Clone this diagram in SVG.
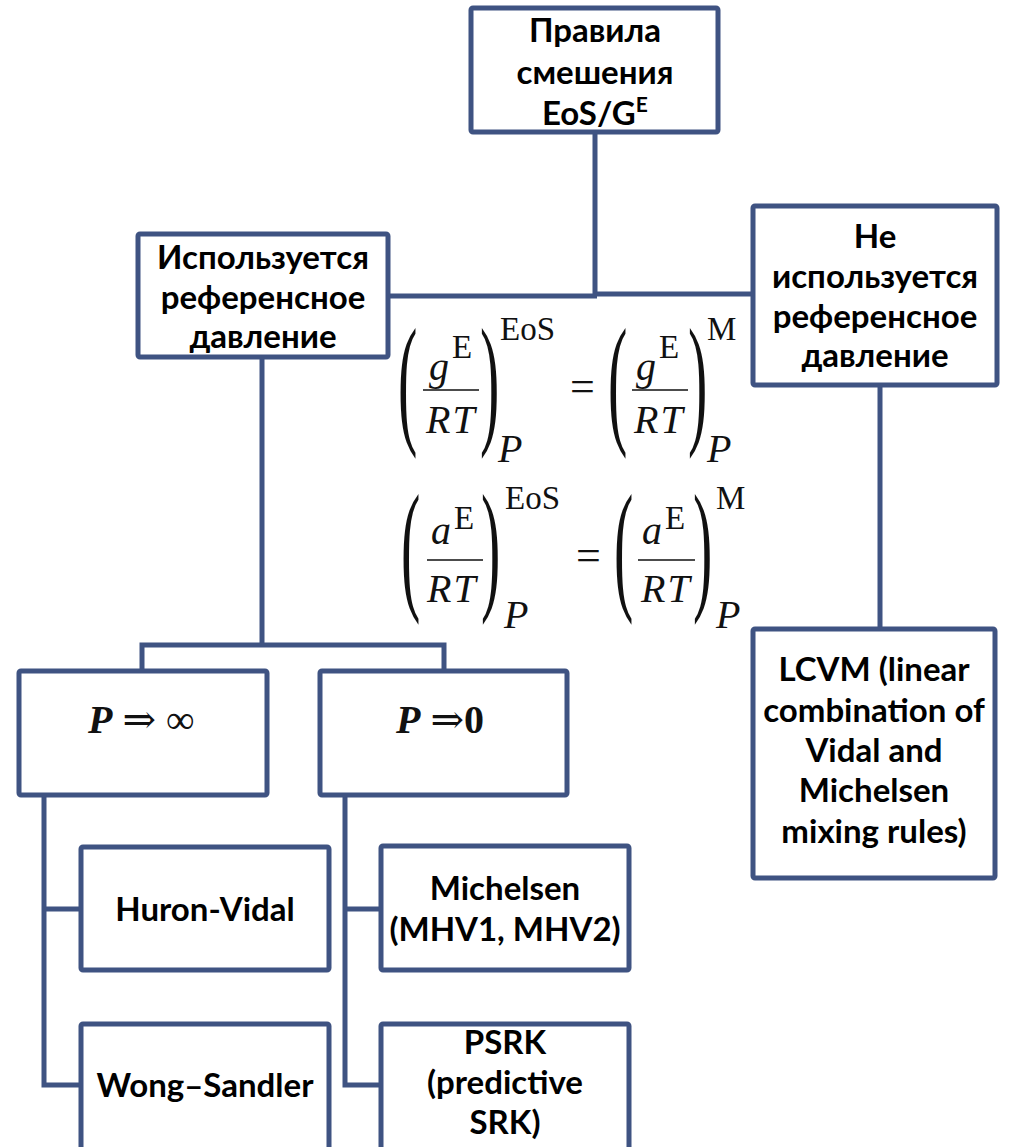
<svg xmlns="http://www.w3.org/2000/svg" width="1009" height="1147" viewBox="0 0 1009 1147">
<style>
.box{fill:#fff;stroke:#3F5382;stroke-width:5;}
.con{fill:none;stroke:#3F5382;stroke-width:5;}
.t{font-family:Lato,"Open Sans","Liberation Sans",sans-serif;font-weight:bold;font-size:33px;fill:#000;text-anchor:middle;}
.m{font-family:"Liberation Serif","DejaVu Serif",serif;fill:#111;}
.i{font-style:italic;}
.big{font-size:40px;}
.sup{font-size:33px;}
.eq{font-size:44px;}
.bar{stroke:#111;stroke-width:1.6;}
</style>
<rect width="1009" height="1147" fill="#fff"/>
<g id="connectors">
<path class="con" d="M595 132 V295 M388 296 H597 M595 294 H753"/>
<path class="con" d="M262 357 V645 M142 671 V645 H444 V671"/>
<path class="con" d="M44 795 V1085 H81 M44 909 H81"/>
<path class="con" d="M345 795 V1085 H381 M345 909 H381"/>
<path class="con" d="M880 385 V629"/>
</g>
<g id="root">
<rect class="box" x="471" y="8" width="247" height="124" rx="2"/>
<text class="t" x="595" y="42">Правила</text>
<text class="t" x="595" y="84">смешения</text>
<text class="t" x="595" y="125">EoS/G<tspan font-size="21" dy="-13">E</tspan></text>
</g>
<g id="used">
<rect class="box" x="138" y="234" width="250" height="123" rx="2"/>
<text class="t" x="263" y="269">Используется</text>
<text class="t" x="263" y="309">референсное</text>
<text class="t" x="263" y="348">давление</text>
</g>
<g id="notused">
<rect class="box" x="753" y="206" width="244" height="179" rx="2"/>
<text class="t" x="875" y="248">Не</text>
<text class="t" x="875" y="288">используется</text>
<text class="t" x="875" y="328">референсное</text>
<text class="t" x="875" y="367">давление</text>
</g>
<g id="formulas" class="m">
<g id="f1">
<text transform="translate(398,428) scale(1,2.5)" font-size="58">(</text>
<text class="big i" x="429" y="380">g</text>
<text class="sup" x="452" y="358">E</text>
<line class="bar" x1="423" y1="390" x2="479" y2="390"/>
<text class="big i" x="426" y="433" letter-spacing="2">RT</text>
<text transform="translate(480,428) scale(1,2.5)" font-size="58">)</text>
<text class="sup" x="500" y="340">EoS</text>
<text class="big i" x="498" y="462">P</text>
<text class="eq" x="570" y="401">=</text>
<text transform="translate(608,428) scale(1,2.5)" font-size="58">(</text>
<text class="big i" x="636" y="380">g</text>
<text class="sup" x="659" y="358">E</text>
<line class="bar" x1="632" y1="390" x2="688" y2="390"/>
<text class="big i" x="634" y="433" letter-spacing="2">RT</text>
<text transform="translate(688,428) scale(1,2.5)" font-size="58">)</text>
<text class="sup" x="707" y="340">M</text>
<text class="big i" x="707" y="462">P</text>
</g>
<g id="f2">
<text transform="translate(401,594) scale(1,2.5)" font-size="58">(</text>
<text class="big i" x="431" y="544">a</text>
<text class="sup" x="454" y="529">E</text>
<line class="bar" x1="427" y1="560" x2="483" y2="560"/>
<text class="big i" x="427" y="602" letter-spacing="2">RT</text>
<text transform="translate(481,594) scale(1,2.5)" font-size="58">)</text>
<text class="sup" x="505" y="509">EoS</text>
<text class="big i" x="504" y="628">P</text>
<text class="eq" x="576" y="570">=</text>
<text transform="translate(614,594) scale(1,2.5)" font-size="58">(</text>
<text class="big i" x="642" y="544">a</text>
<text class="sup" x="665" y="529">E</text>
<line class="bar" x1="638" y1="560" x2="695" y2="560"/>
<text class="big i" x="641" y="602" letter-spacing="2">RT</text>
<text transform="translate(693,594) scale(1,2.5)" font-size="58">)</text>
<text class="sup" x="716" y="509">M</text>
<text class="big i" x="716" y="628">P</text>
</g>
</g>
<g id="pinf">
<rect class="box" x="19" y="671" width="248" height="124" rx="2"/>
<text class="m" x="88" y="733" font-size="40"><tspan font-weight="bold" font-style="italic">P</tspan> ⇒ ∞</text>
</g>
<g id="p0">
<rect class="box" x="320" y="671" width="247" height="124" rx="2"/>
<text class="m" x="396" y="733" font-size="40"><tspan font-weight="bold" font-style="italic">P</tspan> ⇒<tspan font-weight="bold">0</tspan></text>
</g>
<g id="huron">
<rect class="box" x="81" y="847" width="248" height="123" rx="2"/>
<text class="t" x="205" y="921">Huron-Vidal</text>
</g>
<g id="michelsen">
<rect class="box" x="381" y="846" width="248" height="124" rx="2"/>
<text class="t" x="505" y="900">Michelsen</text>
<text class="t" x="505" y="941">(MHV1, MHV2)</text>
</g>
<g id="wong">
<rect class="box" x="81" y="1024" width="248" height="140" rx="2"/>
<text class="t" x="205" y="1097">Wong–Sandler</text>
</g>
<g id="psrk">
<rect class="box" x="381" y="1024" width="248" height="140" rx="2"/>
<text class="t" x="505" y="1054">PSRK</text>
<text class="t" x="505" y="1094">(predictive</text>
<text class="t" x="505" y="1134">SRK)</text>
</g>
<g id="lcvm">
<rect class="box" x="753" y="629" width="242" height="249" rx="2"/>
<text class="t" x="874" y="681">LCVM (linear</text>
<text class="t" x="874" y="722">combination of</text>
<text class="t" x="874" y="762">Vidal and</text>
<text class="t" x="874" y="802">Michelsen</text>
<text class="t" x="874" y="843">mixing rules)</text>
</g>
</svg>
